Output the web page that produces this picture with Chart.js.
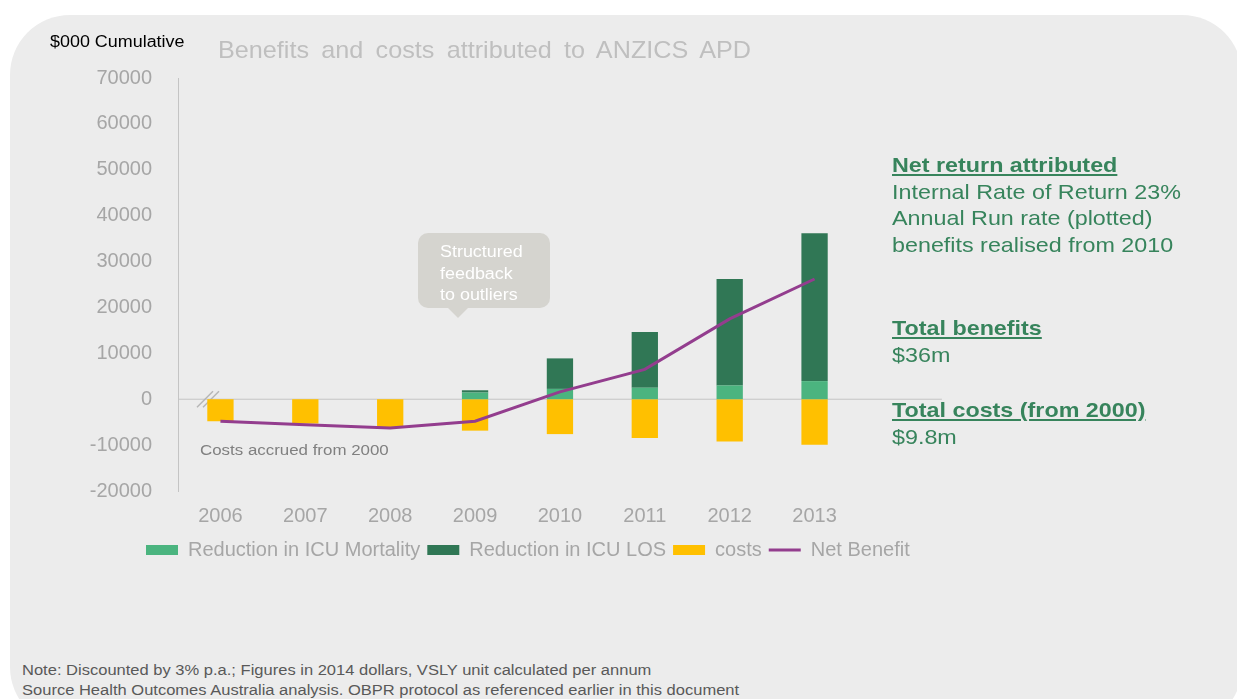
<!DOCTYPE html>
<html>
<head>
<meta charset="utf-8">
<script src="https://cdn.jsdelivr.net/npm/chart.js@4.4.1/dist/chart.umd.min.js"></script>
<style>
  body { margin: 0; width: 1237px; height: 699px; overflow: hidden; background: #fff;
         font-family: 'Liberation Sans', Arial, sans-serif; position: relative; }
  #panel { position: absolute; left: 10px; top: 15px; width: 1232px; height: 712px;
           background: #ececec; border-radius: 60px; }
  #wrap { position: absolute; left: 30px; top: 48px; width: 1000px; height: 522px; }
  .abs { position: absolute; white-space: nowrap; transform-origin: 0 0; }
  #units { left: 50px; top: 33px; font-size: 16px; color: #000; transform: scaleX(1.12); }
  #title { left: 218px; top: 36px; font-size: 24px; color: #bfbfbf; word-spacing: 5px; transform: scaleX(1.05); }
  #costsNote { left: 200px; top: 441px; font-size: 15.5px; color: #808080; transform: scaleX(1.09); }
  #callout { left: 418px; top: 233px; width: 132px; height: 75px; background: #d5d4cf;
             border-radius: 10px; }
  #callout:after { content: ''; position: absolute; left: 30px; top: 75px; border-left: 10px solid transparent;
                   border-right: 10px solid transparent; border-top: 10px solid #d5d4cf; }
  #callout div { position: absolute; left: 22px; top: 8px; font-size: 16px; line-height: 21.5px; color: #fff;
                 transform: scaleX(1.12); transform-origin: 0 0; }
  .side { left: 892px; font-size: 21px; color: #37845c; line-height: 26.5px; transform: scaleX(1.11); }
  .side b { text-decoration: underline; }
  #notes { left: 22px; top: 660px; font-size: 14px; line-height: 20px; color: #595959; transform: scaleX(1.18); }
</style>
</head>
<body>
<div id="panel"></div>
<div id="wrap"><canvas id="apd-chart"></canvas></div>
<div class="abs" id="units">$000 Cumulative</div>
<div class="abs" id="title">Benefits and costs attributed to ANZICS APD</div>
<div class="abs" id="costsNote">Costs accrued from 2000</div>
<div class="abs" id="callout"><div>Structured<br>feedback<br>to outliers</div></div>
<div class="abs side" style="top:152px"><b>Net return attributed</b><br>Internal Rate of Return 23%<br>Annual Run rate (plotted)<br>benefits realised from 2010</div>
<div class="abs side" style="top:315px"><b>Total benefits</b><br>$36m</div>
<div class="abs side" style="top:397px"><b>Total costs (from 2000)</b><br>$9.8m</div>
<div class="abs" id="notes">Note: Discounted by 3% p.a.; Figures in 2014 dollars, VSLY unit calculated per annum<br>Source Health Outcomes Australia analysis. OBPR protocol as referenced earlier in this document</div>

<script>
// Chart data ($000 cumulative)
const years = ['2006', '2007', '2008', '2009', '2010', '2011', '2012', '2013'];
const icuMortality = [0, 0, 0, 1450, 2250, 2500, 3000, 3950];
const icuLos = [0, 0, 0, 500, 6650, 12150, 23200, 32200];
const costs = [-4800, -5300, -6250, -6850, -7600, -8450, -9200, -9900];
const netBenefit = [-4800, -5550, -6250, -4800, 1600, 6500, 17500, 26200];
const yMin = -20000;
const yMax = 70000;
const yStep = 10000;

Chart.defaults.font.family = "'Liberation Sans', Arial, sans-serif";

// zero line running past the last category, plus the axis break marks
const zeroLine = {
    id: 'zeroLine',
    afterLayout(chart) {
        // legend starts a little right of the tick labels
        chart.legend.left = chart.chartArea.left - 39;
    },
    beforeDatasetsDraw(chart) {
        const { ctx, chartArea, scales } = chart;
        const y = scales.y.getPixelForValue(0);
        const step = scales.x.getPixelForValue(1) - scales.x.getPixelForValue(0);
        ctx.save();
        ctx.strokeStyle = '#c4c4c4';
        ctx.lineWidth = 1;
        ctx.beginPath();
        ctx.moveTo(chartArea.left, y);
        ctx.lineTo(chartArea.right + step, y);
        ctx.stroke();

        const bx = chartArea.left + 30;
        ctx.strokeStyle = '#b5b5b5';
        ctx.lineWidth = 1.5;
        [-3, 3].forEach(d => {
            ctx.beginPath();
            ctx.moveTo(bx - 8 + d, y + 8);
            ctx.lineTo(bx + 8 + d, y - 8);
            ctx.stroke();
        });
        ctx.restore();
    }
};

const config = {
    type: 'bar',
    data: {
        labels: years,
        datasets: [
            { label: 'Reduction in ICU Mortality', data: icuMortality, backgroundColor: '#4bb47f', stack: 'a', order: 2 },
            { label: 'Reduction in ICU LOS', data: icuLos, backgroundColor: '#307755', stack: 'a', order: 2 },
            { label: 'costs', data: costs, backgroundColor: '#ffc000', stack: 'a', order: 2 },
            {
                type: 'line', label: 'Net Benefit', data: netBenefit, stack: 'net', order: 1,
                borderColor: '#933d8e', backgroundColor: '#933d8e', borderWidth: 3,
                pointRadius: 0, tension: 0
            }
        ]
    },
    options: {
        responsive: true,
        maintainAspectRatio: false,
        animation: false,
        layout: { padding: { left: 60, top: 0, right: 0, bottom: 0 } },
        datasets: { bar: { categoryPercentage: 1, barPercentage: 0.31 } },
        scales: {
            x: {
                stacked: true,
                grid: { display: false },
                border: { display: false },
                ticks: { color: '#a6a6a6', font: { size: 20 }, padding: 5 }
            },
            y: {
                stacked: true,
                min: yMin,
                max: yMax,
                grid: { display: false },
                border: { display: true, color: '#c4c4c4' },
                ticks: {
                    stepSize: yStep, color: '#a6a6a6', font: { size: 20 }, padding: 18,
                    callback: function(value) { return String(value); }
                },
                afterFit: function(scale) { scale.width = 88; }
            },
            // empty box that keeps room for the notes on the right
            yRight: {
                position: 'right',
                display: true,
                grid: { display: false },
                border: { display: false },
                ticks: { display: false },
                afterFit: function(scale) { scale.width = 173; }
            }
        },
        plugins: {
            legend: {
                position: 'bottom',
                align: 'start',
                labels: {
                    color: '#a6a6a6',
                    font: { size: 20 },
                    usePointStyle: true,
                    pointStyleWidth: 32,
                    boxHeight: 10,
                    padding: 7,
                    generateLabels: function(chart) {
                        return chart.data.datasets.map((ds, i) => ({
                            text: ds.label,
                            fillStyle: ds.backgroundColor,
                            strokeStyle: ds.type === 'line' ? ds.borderColor : ds.backgroundColor,
                            lineWidth: ds.type === 'line' ? 3 : 0,
                            pointStyle: ds.type === 'line' ? 'line' : 'rect',
                            fontColor: '#a6a6a6',
                            hidden: false,
                            datasetIndex: i
                        }));
                    }
                }
            },
            tooltip: { enabled: false }
        }
    },
    plugins: [zeroLine]
};

new Chart(document.getElementById('apd-chart'), config);
</script>
</body>
</html>
